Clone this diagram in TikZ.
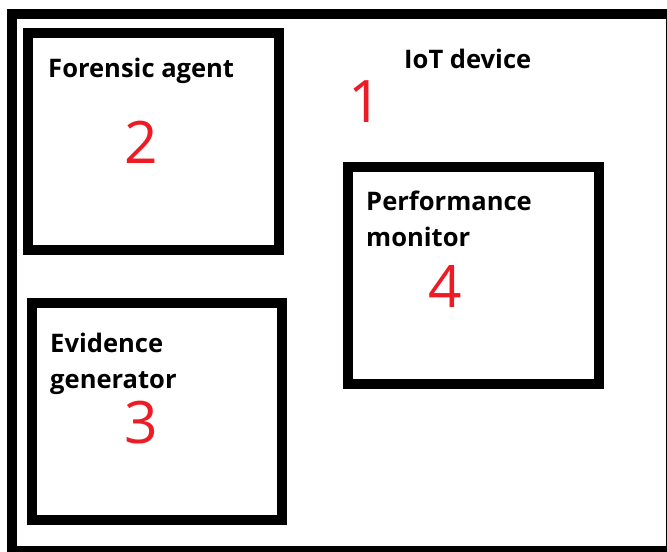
\documentclass[tikz,border=0pt]{standalone}
\usepackage{fontspec}
\setmainfont{Open Sans}
\definecolor{paintred}{RGB}{237,28,36}
\tikzset{
  frame/.style={line width=0.3cm},
  title/.style={font=\bfseries\fontsize{21.8}{30.6}\selectfont, inner sep=0pt, align=left},
  num/.style={font=\fontsize{50}{50}\selectfont, text=paintred, inner sep=0pt}
}
\begin{document}
\begin{tikzpicture}[x=0.03cm,y=-0.03cm]
    \useasboundingbox (0,0) rectangle (667,551);
    \clip (0,0) rectangle (667,551);
    % outer device frame and the three parts
    \draw[frame] (12,14) rectangle (671,551);
    \draw[frame] (28,33) rectangle (279,250);
    \draw[frame] (32,303) rectangle (282,520);
    \draw[frame] (348,167) rectangle (599,384);
    % labels (two-line ones sit on their last baseline)
    \node[title, anchor=base west] (device) at (404,68) {IoT device};
    \node[num, anchor=base] (n1) at (365,122) {1};
    \node[title, anchor=base west] (agent) at (48,77) {Forensic agent};
    \node[num, anchor=base] (n2) at (141,163) {2};
    \node[title, anchor=base west] (evidence) at (50,388) {Evidence\\generator};
    \node[num, anchor=base] (n3) at (141,443) {3};
    \node[title, anchor=base west] (monitor) at (366,246) {Performance\\monitor};
    \node[num, anchor=base] (n4) at (445,307) {4};
\end{tikzpicture}
\end{document}
